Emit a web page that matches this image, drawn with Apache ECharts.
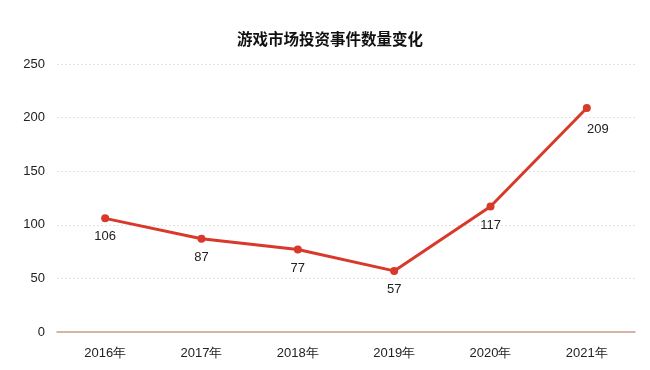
<!DOCTYPE html>
<html><head><meta charset="utf-8">
<script src="https://cdn.jsdelivr.net/npm/echarts@6/dist/echarts.min.js"></script>
<style>html,body{margin:0;padding:0;background:#fff}#c{width:650px;height:370px}</style>
</head><body><div id="c"></div>
<script>
const title = '游戏市场投资事件数量变化';
const categories = ['2016年','2017年','2018年','2019年','2020年','2021年'];
const values = [106, 87, 77, 57, 117, 209];
const yTicks = [0, 50, 100, 150, 200, 250];

const chart = echarts.init(document.getElementById('c'));
chart.setOption({
  animation: false,
  title: { text: title, left: 232, top: 26,
    textStyle: { fontSize: 15.5, fontWeight: 'bold', color: '#111', fontFamily: 'Noto Sans CJK SC' } },
  grid: { left: 57, right: 15, top: 64, bottom: 38 },
  xAxis: { type: 'category', data: categories, boundaryGap: true,
    axisLine: { lineStyle: { color: '#c9a08a', width: 1.5 } },
    axisTick: { show: false },
    axisLabel: { color: '#222', fontSize: 13, margin: 15, fontFamily: 'Liberation Sans' } },
  yAxis: { type: 'value', min: yTicks[0], max: yTicks[yTicks.length-1], interval: 50,
    axisLine: { show: false }, axisTick: { show: false },
    axisLabel: { color: '#222', fontSize: 13, margin: 12, fontFamily: 'Liberation Sans' },
    splitLine: { lineStyle: { color: '#e2e2e2', type: [2, 2] } } },
  series: [{
    type: 'line', data: values.map((v, i) => i === values.length - 1 ?
      { value: v, label: { position: 'bottom', offset: [11, 3] } } : v),
    symbol: 'circle', symbolSize: 8,
    lineStyle: { color: '#d8392a', width: 3 },
    itemStyle: { color: '#d8392a' },
    label: { show: true, position: 'bottom', distance: 8, color: '#222', fontSize: 13, fontFamily: 'Liberation Sans' }
  }]
});
</script></body></html>
